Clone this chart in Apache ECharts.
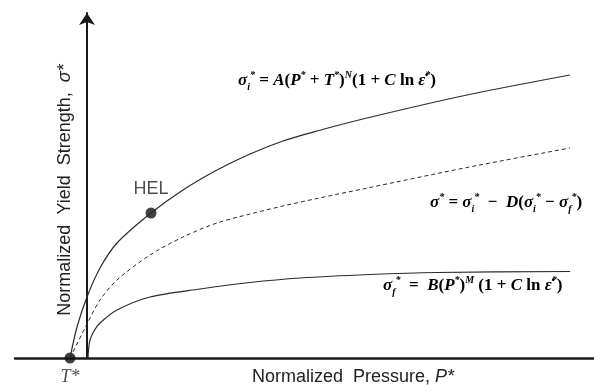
<!DOCTYPE html>
<html>
<head>
<meta charset="utf-8">
<script src="https://cdn.jsdelivr.net/npm/echarts@6/dist/echarts.min.js"></script>
<style>
  html, body { margin: 0; padding: 0; background: #fff; }
  #tubiao1 { width: 594px; height: 392px; }
</style>
</head>
<body>
<div id="tubiao1"></div>
<script>
// normalized pressure P*, normalized strength sigma*
var intactCurve = [
	[-0.17, 0], [-0.10, 0.31], [0.0, 0.61], [0.13, 0.90], [0.30, 1.15],
	[0.64, 1.45], [0.96, 1.68], [1.30, 1.88], [1.63, 2.04], [1.96, 2.17],
	[2.30, 2.27], [2.80, 2.40], [3.80, 2.63], [4.83, 2.83]
];
var damagedCurve = [
	[-0.17, 0], [0.0, 0.34], [0.13, 0.58], [0.30, 0.78], [0.63, 1.03],
	[0.96, 1.21], [1.30, 1.35], [1.63, 1.44], [1.96, 1.52], [2.30, 1.595],
	[2.78, 1.695], [3.80, 1.905], [4.83, 2.10]
];
var fracturedCurve = [
	[0.01, 0], [0.015, 0.08], [0.03, 0.18], [0.07, 0.27], [0.13, 0.35],
	[0.30, 0.48], [0.63, 0.61], [1.13, 0.69], [1.63, 0.755], [2.13, 0.80],
	[2.83, 0.835], [3.50, 0.855], [4.83, 0.865]
];
var helPoint = [0.64, 1.45];
var tPoint = [-0.17, 0];

var curveColor = '#2b2b2b';

var serif = {
	b: { fontFamily: 'Liberation Serif', fontWeight: 'bold', fontStyle: 'italic', fontSize: 17, lineHeight: 22, color: '#111' },
	r: { fontFamily: 'Liberation Serif', fontWeight: 'bold', fontSize: 17, lineHeight: 22, color: '#111' },
	sup: { fontFamily: 'Liberation Serif', fontWeight: 'bold', fontStyle: 'italic', fontSize: 10, lineHeight: 12, verticalAlign: 'top', color: '#111' },
	sub: { fontFamily: 'Liberation Serif', fontWeight: 'bold', fontStyle: 'italic', fontSize: 10, lineHeight: 12, verticalAlign: 'bottom', color: '#111' }
};

var myChart = echarts.init(document.getElementById('tubiao1'));

var option = {
	animation: false,
	backgroundColor: '#fff',
	grid: { left: 15, right: 0, top: 13, bottom: 34 },
	xAxis: {
		type: 'value',
		min: -0.72,
		max: 5.07,
		axisLine: { show: true, onZero: true, lineStyle: { color: '#1a1a1a', width: 2.5 } },
		axisTick: { show: false },
		axisLabel: { show: false },
		splitLine: { show: false }
	},
	yAxis: {
		type: 'value',
		min: 0,
		max: 3.45,
		axisLine: {
			show: true, onZero: true,
			symbol: ['none', 'arrow'], symbolSize: [12, 12],
			lineStyle: { color: '#1a1a1a', width: 2 }
		},
		axisTick: { show: false },
		axisLabel: { show: false },
		splitLine: { show: false }
	},
	series: [
		{
			name: 'intact', type: 'line', data: intactCurve, smooth: 0.3, symbol: 'none',
			lineStyle: { color: curveColor, width: 1.2 }
		},
		{
			name: 'damaged', type: 'line', data: damagedCurve, smooth: 0.3, symbol: 'none',
			lineStyle: { color: curveColor, width: 1, type: [4, 3] }
		},
		{
			name: 'fractured', type: 'line', data: fracturedCurve, smooth: 0.3, symbol: 'none',
			lineStyle: { color: curveColor, width: 1.2 }
		},
		{
			name: 'HEL', type: 'scatter', data: [helPoint], symbolSize: 11,
			itemStyle: { color: '#111' },
			label: {
				show: true, position: 'top', distance: 9, formatter: 'HEL',
				fontFamily: 'Liberation Sans', fontSize: 18, color: '#222'
			}
		},
		{
			name: 'T', type: 'scatter', data: [tPoint], symbolSize: 11,
			itemStyle: { color: '#111' },
			label: {
				show: true, position: 'bottom', distance: 5, formatter: 'T*',
				fontFamily: 'Liberation Serif', fontStyle: 'italic', fontSize: 18, color: '#222'
			}
		}
	],
	graphic: [
		{
			type: 'text', left: 252, top: 368,
			style: {
				text: 'Normalized  Pressure, {i|P*}',
				fontFamily: 'Liberation Sans', fontSize: 18, fill: '#222',
				rich: { i: { fontFamily: 'Liberation Sans', fontStyle: 'italic', fontSize: 18, color: '#222' } }
			}
		},
		{
			type: 'text', x: 65, y: 190, rotation: Math.PI / 2,
			style: {
				text: 'Normalized  Yield  Strength,  {i|σ*}',
				fontFamily: 'Liberation Sans', fontSize: 18, fill: '#222',
				align: 'center', verticalAlign: 'middle',
				rich: { i: { fontFamily: 'Liberation Sans', fontStyle: 'italic', fontSize: 18, color: '#222' } }
			}
		},
		{
			type: 'text', left: 238, top: 70,
			style: {
				text: '{b|σ}{sub|i}{sup|*}{r| = }{b|A}{r|(}{b|P}{sup|*}{r| + }{b|T}{sup|*}{r|)}{sup|N}{r|(1 + }{b|C }{r|ln }{b|ε̇}{sup|*}{r|)}',
				rich: serif
			}
		},
		{
			type: 'text', left: 430, top: 192,
			style: {
				text: '{b|σ}{sup|*}{r| = }{b|σ}{sub|i}{sup|*}{r|  −  }{b|D}{r|(}{b|σ}{sub|i}{sup|*}{r| − }{b|σ}{sub|f}{sup|*}{r|)}',
				rich: serif
			}
		},
		{
			type: 'text', left: 383, top: 275,
			style: {
				text: '{b|σ}{sub|f}{sup|*}{r|  =  }{b|B}{r|(}{b|P}{sup|*}{r|)}{sup|M}{r| (1 + }{b|C }{r|ln }{b|ε̇}{sup|*}{r|)}',
				rich: serif
			}
		}
	]
};
myChart.setOption(option);
</script>
</body>
</html>
